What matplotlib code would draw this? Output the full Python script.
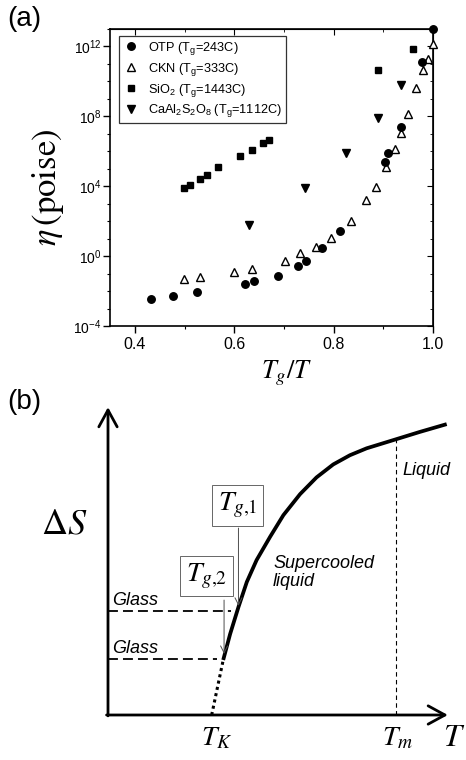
import numpy as np
import matplotlib
matplotlib.use("Agg")
import matplotlib.pyplot as plt
from matplotlib.ticker import FixedLocator, MultipleLocator, LogLocator, NullFormatter

plt.rcParams['font.family'] = 'Liberation Sans'
plt.rcParams['mathtext.fontset'] = 'custom'
plt.rcParams['mathtext.rm'] = 'Liberation Sans'
plt.rcParams['mathtext.it'] = 'Liberation Sans:italic'
plt.rcParams['mathtext.bf'] = 'Liberation Sans:bold'

# (a) viscosity vs Tg/T, stored as log10(eta / poise)
otp_x = [0.432, 0.477, 0.525, 0.622, 0.640, 0.689, 0.728, 0.744, 0.777, 0.812,
         0.904, 0.910, 0.935, 0.978, 1.000]
otp_log_eta = [-2.46, -2.26, -2.06, -1.60, -1.45, -1.12, -0.57, -0.30, 0.46, 1.41,
               5.41, 5.91, 7.37, 11.11, 13.0]

ckn_x = [0.499, 0.531, 0.599, 0.635, 0.703, 0.733, 0.765, 0.794, 0.834, 0.865,
         0.886, 0.906, 0.923, 0.935, 0.949, 0.966, 0.980, 0.989, 0.999]
ckn_log_eta = [-1.33, -1.22, -0.89, -0.76, -0.29, 0.17, 0.50, 1.01, 2.02, 3.20,
               3.98, 5.09, 6.14, 7.03, 8.11, 9.60, 10.67, 11.31, 12.17]

sio2_x = [0.499, 0.511, 0.531, 0.546, 0.568, 0.611, 0.635, 0.657, 0.670, 0.890, 0.959]
sio2_log_eta = [3.89, 4.08, 4.42, 4.67, 5.09, 5.75, 6.08, 6.46, 6.65, 10.65, 11.85]

cas_x = [0.630, 0.742, 0.824, 0.890, 0.935]
cas_log_eta = [1.79, 3.91, 5.89, 7.93, 9.79]

labels = ['OTP (T$_\\mathrm{g}$=243C)', 'CKN (T$_\\mathrm{g}$=333C)',
          'SiO$_2$ (T$_\\mathrm{g}$=1443C)',
          'CaAl$_2$S$_2$O$_8$ (T$_\\mathrm{g}$=1112C)']

ytick_exp = [-4, 0, 4, 8, 12]
xtick_vals = [0.4, 0.6, 0.8, 1.0]

# (b) schematic entropy curve, T scaled so that Tm = 1
curve_T = [0.400, 0.424, 0.453, 0.482, 0.516, 0.563, 0.609, 0.667, 0.724, 0.782,
           0.840, 0.898, 1.002, 1.083, 1.176]
curve_S = [0.191, 0.281, 0.375, 0.462, 0.538, 0.619, 0.694, 0.767, 0.825, 0.870,
           0.902, 0.926, 0.958, 0.983, 1.010]
T_K = 0.360
T_m = 1.0
S_m = 0.958
glass_T = [0.450, 0.400]
glass_S = [0.361, 0.194]

fig = plt.figure(figsize=(4.66, 7.6), dpi=100)
W, H = 466.0, 760.0

# ---------- panel (a)
ax = fig.add_axes([110 / W, 1 - 326 / H, 323 / W, 297 / H])
ax.set_yscale('log')
ax.plot(otp_x, 10.0 ** np.array(otp_log_eta), 'o', color='black', ms=5.4,
        label=labels[0], clip_on=False, zorder=5)
ax.plot(ckn_x, 10.0 ** np.array(ckn_log_eta), '^', mfc='white', mec='black', mew=1.0,
        ms=6.0, label=labels[1], clip_on=False, zorder=4)
ax.plot(sio2_x, 10.0 ** np.array(sio2_log_eta), 's', color='black', ms=3.8,
        label=labels[2], zorder=4)
ax.plot(cas_x, 10.0 ** np.array(cas_log_eta), 'v', color='black', ms=5.8,
        label=labels[3], zorder=4)

ax.set_xlim(0.35, 1.0)
ax.set_ylim(1e-4, 1e13)
ax.xaxis.set_major_locator(FixedLocator(xtick_vals))
ax.xaxis.set_minor_locator(MultipleLocator(0.1))
ax.set_xticklabels(['%.1f' % v for v in xtick_vals])
ax.yaxis.set_major_locator(FixedLocator([10.0 ** e for e in ytick_exp]))
ax.set_yticklabels(['$10^{%d}$' % e for e in ytick_exp])
ax.yaxis.set_minor_locator(LogLocator(base=10, subs=(1.0,), numticks=40))
ax.yaxis.set_minor_formatter(NullFormatter())
ax.tick_params(which='major', direction='out', length=5, width=1.0)
ax.tick_params(which='minor', direction='out', length=2.5, width=0.8)
ax.tick_params(axis='x', labelsize=11.5, pad=3)
ax.tick_params(axis='y', labelsize=10, pad=1)
for sp in ax.spines.values():
    sp.set_linewidth(1.2)

top = ax.secondary_xaxis('top')
top.xaxis.set_major_locator(FixedLocator(xtick_vals))
top.xaxis.set_minor_locator(MultipleLocator(0.1))
top.tick_params(which='major', direction='in', length=4, labeltop=False)
top.tick_params(which='minor', direction='in', length=2)
right = ax.secondary_yaxis('right')
right.yaxis.set_major_locator(FixedLocator([10.0 ** e for e in ytick_exp]))
right.yaxis.set_minor_locator(LogLocator(base=10, subs=(1.0,), numticks=40))
right.yaxis.set_minor_formatter(NullFormatter())
right.tick_params(which='major', direction='in', length=4, labelright=False)
right.tick_params(which='minor', direction='in', length=2.5)

leg = ax.legend(loc='upper left', bbox_to_anchor=(0.028, 0.976), borderaxespad=0,
                fontsize=9.2, frameon=True, fancybox=False, handlelength=1.2,
                handletextpad=0.8, labelspacing=0.3, borderpad=0.3)
leg.get_frame().set_edgecolor('black')
leg.get_frame().set_linewidth(0.9)

fig.text(48 / W, 1 - 187 / H, r'$\eta\,(\mathrm{poise})$', math_fontfamily='stix',
         fontsize=25, rotation=90, ha='center', va='center')
fig.text(287 / W, 1 - 373 / H, r'$T_g/T$', math_fontfamily='stix', fontsize=19,
         ha='center', va='center')
fig.text(7 / W, 1 - 6 / H, '(a)', fontsize=20, va='top', ha='left')

# ---------- panel (b)
axb = fig.add_axes([0, 0, 1, 375 / H])
axb.set_xlim(-108 / 288, 358 / 288)
axb.set_ylim(-45 / 288, 330 / 288)
axb.axis('off')

arrow_kw = dict(arrowstyle='->,head_length=0.55,head_width=0.3', lw=2.0,
                color='black', mutation_scale=22, shrinkA=0, shrinkB=0)
axb.annotate('', xy=(1.18, 0), xytext=(-0.005, 0), arrowprops=arrow_kw)
axb.annotate('', xy=(0, 1.069), xytext=(0, -0.003), arrowprops=arrow_kw)

axb.plot(curve_T, curve_S, color='black', lw=2.7, solid_capstyle='butt',
         solid_joinstyle='round')
axb.plot([T_K, curve_T[0]], [0, curve_S[0]], color='black', lw=2.2,
         ls=(0, (1, 1.1)))
axb.plot([T_m, T_m], [0, S_m], color='black', lw=0.8, ls=(0, (4, 3)))

for gT, gS in zip(glass_T, glass_S):
    axb.plot([0, gT - 0.022], [gS, gS], color='black', lw=1.3, ls=(0, (5.5, 2.8)))
    axb.text(0.014, gS + 0.021, 'Glass', fontsize=13, style='italic',
             ha='left', va='baseline')

box_kw = dict(boxstyle='square,pad=0.2', fc='white', ec='0.4', lw=0.7)
tg_boxes = [(0.450, 0.727, r'$T_{g{,}1}$', 0.649), (0.342, 0.483, r'$T_{g{,}2}$', 0.399)]
for (bx, by, lab, bottom), gT, gS in zip(tg_boxes, glass_T, glass_S):
    axb.text(bx, by, lab, math_fontfamily='stix', fontsize=20, ha='center',
             va='center', bbox=box_kw)
    axb.annotate('', xy=(gT + 0.003, gS + 0.018), xytext=(gT + 0.003, bottom),
                 arrowprops=dict(arrowstyle='->,head_length=0.5,head_width=0.25',
                                 lw=0.7, color='0.3', mutation_scale=10,
                                 shrinkA=0, shrinkB=0))

axb.text(0.573, 0.556, 'Supercooled\nliquid', fontsize=13, style='italic',
         ha='left', va='top', linespacing=1.05)
axb.text(1.024, 0.878, 'Liquid', fontsize=13, style='italic', ha='left', va='top')

axb.text(-0.153, 0.663, r'$\Delta S$', math_fontfamily='stix', fontsize=26,
         ha='center', va='center')
axb.text(0.378, -0.035, r'$T_K$', math_fontfamily='stix', fontsize=20,
         ha='center', va='top')
axb.text(1.007, -0.035, r'$T_m$', math_fontfamily='stix', fontsize=20,
         ha='center', va='top')
axb.text(1.162, -0.028, r'$T$', math_fontfamily='stix', fontsize=23,
         ha='left', va='top')
fig.text(7 / W, 1 - 389 / H, '(b)', fontsize=20, va='top', ha='left')

fig.savefig('out.png', dpi=100)
